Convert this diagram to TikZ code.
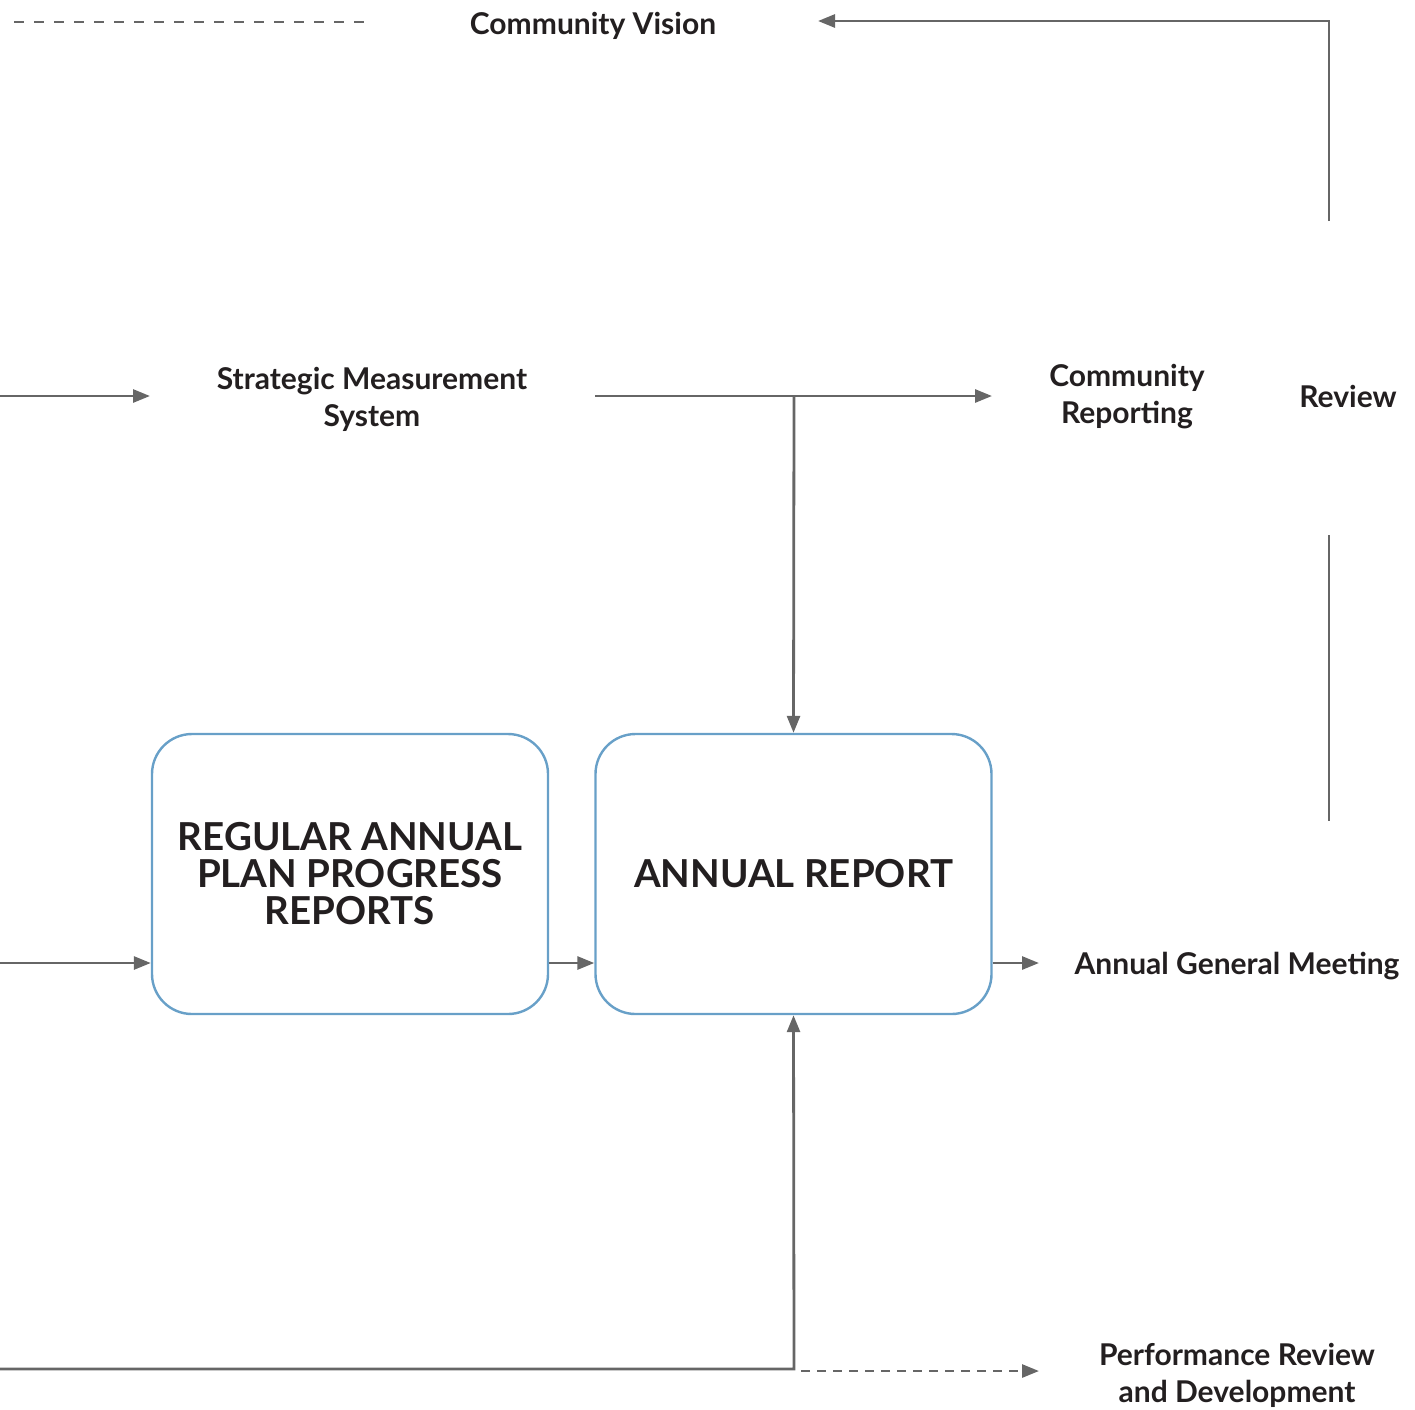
\documentclass[tikz,border=0pt]{standalone}
\usepackage{fontspec}
\setmainfont{Lato}
\usetikzlibrary{arrows.meta}
\definecolor{linegray}{RGB}{102,102,102}
\definecolor{boxblue}{RGB}{104,160,200}
\definecolor{txt}{RGB}{35,31,32}
\begin{document}
\begin{tikzpicture}[x=1pt,y=-1pt,
  conn/.style={draw=linegray,line width=2.8pt},
  arr/.style={conn,-{Triangle[length=17pt,width=13pt]}},
  dashconn/.style={conn,dash pattern=on 10pt off 10pt},
  lbl/.style={text=txt,font=\fontsize{30}{37}\selectfont\bfseries,align=center,inner sep=0pt},
  bigbox/.style={draw=boxblue,line width=2.4pt,rounded corners=40pt,minimum width=396pt,minimum height=280pt,
     text=txt,font=\fontsize{38.5}{37}\selectfont\bfseries,align=center,inner sep=0pt}]
\useasboundingbox (0,0) rectangle (1415,1409);
% labels
\node[lbl] (vision) at (593,26) {Community Vision};
\node[lbl] (sms) at (372,399) {Strategic Measurement\\System};
\node[lbl] (cr) at (1127,397) {Community\\Reporting};
\node[lbl] (review) at (1348,396) {Review};
\node[lbl] (agm) at (1237,966) {Annual General Meeting};
\node[lbl] (prd) at (1237,1375) {Performance Review\\and Development};
% boxes
\node[bigbox] (rap) at (350,874) {REGULAR ANNUAL\\PLAN PROGRESS\\REPORTS};
\node[bigbox] (ar) at (793.5,874) {ANNUAL REPORT};
% helper coordinates
\coordinate (dA) at (14,22);
\coordinate (dB) at (372,22);
\coordinate (revTop) at (1329,221);
\coordinate (corner) at (1329,21);
\coordinate (visR) at (818,21);
\coordinate (smsL) at (0,396);
\coordinate (smsIn) at (150,396);
\coordinate (smsOut) at (595,396);
\coordinate (crIn) at (992,396);
\coordinate (branch) at (794,396);
\coordinate (revB1) at (1329,535);
\coordinate (revB2) at (1329,821);
\coordinate (rapL) at (0,963);
\coordinate (bot) at (0,1369);
\coordinate (botC) at (794,1369);
\coordinate (dashS) at (801,1371);
\coordinate (dashE) at (1039,1371);
% connectors
\draw[dashconn] (dA) -- (dB);
\draw[arr] (revTop) -- (corner) -- (visR);
\draw[arr] (smsL) -- (smsIn);
\draw[arr] (smsOut) -- (crIn);
\draw[arr] (branch) -- (ar.north);
\draw[conn] (revB1) -- (revB2);
\draw[arr] (rapL) -- (rap.west |- rapL);
\draw[arr] (rap.east |- rapL) -- (ar.west |- rapL);
\draw[arr] (ar.east |- rapL) -- (1039,963);
\draw[arr] (bot) -- (botC) -- (ar.south);
\draw[conn,dash pattern=on 9pt off 7pt,-{Triangle[length=17pt,width=13pt]}] (dashS) -- (dashE);
\end{tikzpicture}
\end{document}
